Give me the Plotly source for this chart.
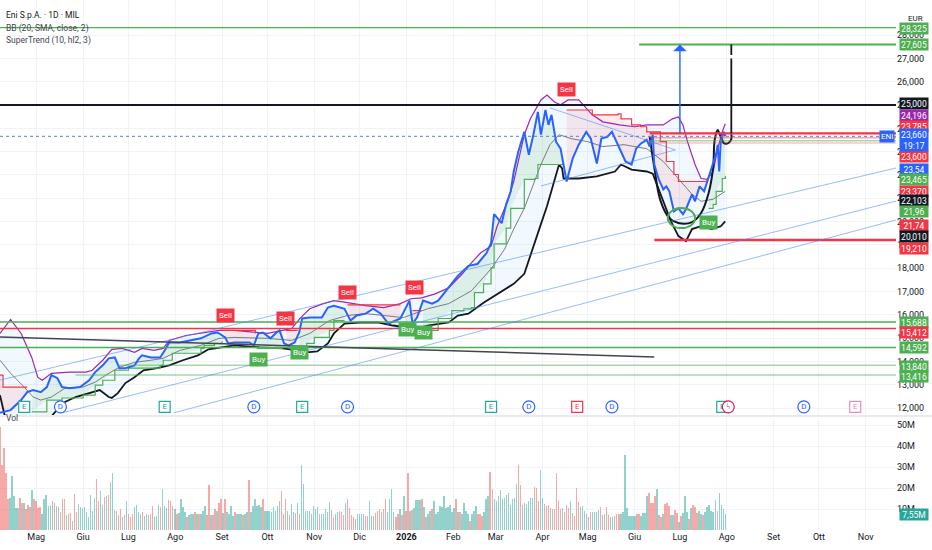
import pandas as pd
import plotly.graph_objects as go

# ---------------- data ----------------
price_dates = ["2025-04-07","2025-04-14","2025-04-21","2025-04-25","2025-04-29","2025-05-04","2025-05-08","2025-05-11","2025-05-15","2025-05-18",
               "2025-05-23","2025-05-30","2025-06-05","2025-06-09","2025-06-14","2025-06-18","2025-06-22","2025-06-25","2025-06-29","2025-07-05",
               "2025-07-08","2025-07-10","2025-07-16","2025-07-22","2025-07-25","2025-07-28","2025-08-04","2025-08-11","2025-08-18","2025-08-25",
               "2025-08-29","2025-09-03","2025-09-05","2025-09-09","2025-09-19","2025-09-22","2025-09-25","2025-09-28","2025-10-03","2025-10-07",
               "2025-10-09","2025-10-12","2025-10-15","2025-10-19","2025-10-22","2025-10-24","2025-10-29","2025-11-06","2025-11-10","2025-11-14",
               "2025-11-21","2025-11-25","2025-11-29","2025-12-05","2025-12-10","2025-12-15","2025-12-20","2025-12-28","2026-01-03","2026-01-05",
               "2026-01-08","2026-01-12","2026-01-18","2026-01-22","2026-01-29","2026-02-04","2026-02-11","2026-02-17","2026-02-23","2026-02-26",
               "2026-02-28","2026-03-05","2026-03-08","2026-03-11","2026-03-13","2026-03-16","2026-03-20","2026-03-23","2026-03-26","2026-03-29",
               "2026-03-31","2026-04-03","2026-04-05","2026-04-07","2026-04-10","2026-04-13","2026-04-17","2026-04-21","2026-04-25","2026-04-30",
               "2026-05-03","2026-05-07","2026-05-10","2026-05-14","2026-05-17","2026-05-21","2026-05-23","2026-05-26","2026-05-30","2026-06-02",
               "2026-06-05","2026-06-09","2026-06-11","2026-06-13","2026-06-14","2026-06-17","2026-06-20","2026-06-22","2026-06-24","2026-06-27",
               "2026-06-30","2026-07-03","2026-07-05","2026-07-09","2026-07-11","2026-07-14","2026-07-17","2026-07-19","2026-07-22","2026-07-25",
               "2026-07-26","2026-07-27","2026-07-28","2026-07-30","2026-07-31"]
price_close = [11.79,11.91,12.34,12.68,12.77,12.68,12.90,13.41,13.28,12.90,
               12.85,12.90,13.19,13.54,13.83,14.13,14.17,13.71,13.71,13.83,
               14.13,14.26,14.17,14.17,14.47,14.81,14.81,14.90,14.99,15.20,
               15.24,15.03,14.77,14.81,14.81,14.69,15.20,15.24,14.99,15.24,
               15.33,14.77,14.69,14.81,15.24,15.84,15.88,15.88,16.31,16.39,
               16.26,15.75,15.97,16.05,16.26,16.05,15.62,15.84,16.61,15.62,
               15.88,16.61,16.48,16.61,17.16,17.67,18.10,18.18,18.65,19.08,
               20.32,19.93,20.74,21.30,22.15,23.00,23.85,22.87,23.73,24.71,
               23.73,24.79,24.15,24.58,23.43,23.13,21.72,22.70,23.30,23.85,
               23.56,22.49,23.56,23.64,23.85,23.30,23.00,22.58,22.45,23.13,
               23.34,23.51,23.22,23.73,22.45,21.81,21.38,21.51,21.30,20.44,
               20.57,20.32,20.53,21.17,20.87,21.51,21.30,21.72,22.28,22.92,
               23.30,22.15,23.43,23.85,23.66]

bb_upper_dates = ["2025-04-07","2025-04-14","2025-04-21","2025-04-28","2025-05-02","2025-05-05","2025-05-11","2025-05-23","2025-06-03","2025-06-07",
                  "2025-06-14","2025-06-20","2025-06-27","2025-07-05","2025-07-10","2025-07-18","2025-07-24","2025-07-28","2025-08-08","2025-08-23",
                  "2025-08-30","2025-09-09","2025-09-24","2025-10-01","2025-10-11","2025-10-17","2025-10-23","2025-10-29","2025-11-07","2025-11-14",
                  "2025-11-23","2025-12-05","2025-12-17","2025-12-28","2026-01-04","2026-01-11","2026-01-20","2026-01-29","2026-02-07","2026-02-13",
                  "2026-02-19","2026-02-26","2026-03-02","2026-03-09","2026-03-13","2026-03-20","2026-03-24","2026-03-31","2026-04-04","2026-04-09",
                  "2026-04-13","2026-04-18","2026-04-25","2026-04-30","2026-05-04","2026-05-11","2026-05-22","2026-06-01","2026-06-09","2026-06-20",
                  "2026-06-26","2026-06-30","2026-07-03","2026-07-06","2026-07-11","2026-07-15","2026-07-19","2026-07-23","2026-07-26","2026-07-29",
                  "2026-07-31"]
bb_upper = [15.20,15.80,15.20,14.17,13.32,13.19,13.49,13.54,13.54,13.62,
            14.05,14.52,14.56,14.39,14.56,14.47,14.56,14.90,15.11,15.24,
            15.33,15.33,15.24,15.20,15.33,15.41,15.88,16.26,16.48,16.61,
            16.52,16.39,16.31,16.48,16.69,16.73,16.90,17.16,17.76,18.23,
            18.65,18.95,19.80,20.87,21.72,23.73,24.41,25.22,25.43,25.13,
            25.01,25.22,25.22,24.84,24.58,24.28,24.15,24.07,24.15,24.15,
            24.41,24.49,24.15,23.43,22.45,21.85,21.81,22.15,23.13,23.85,
            24.20]

bb_basis_dates = ["2025-04-07","2025-04-14","2025-04-23","2025-04-29","2025-05-04","2025-05-11","2025-05-20","2025-06-01","2025-06-09","2025-06-16",
                  "2025-06-25","2025-07-05","2025-07-16","2025-07-24","2025-08-04","2025-08-18","2025-08-30","2025-09-09","2025-10-01","2025-10-17",
                  "2025-10-29","2025-11-11","2025-11-23","2025-12-05","2025-12-30","2026-01-15","2026-01-29","2026-02-13","2026-02-26","2026-03-07",
                  "2026-03-13","2026-03-20","2026-03-31","2026-04-06","2026-04-12","2026-04-20","2026-05-01","2026-05-11","2026-05-25","2026-06-09",
                  "2026-06-20","2026-06-30","2026-07-09","2026-07-15","2026-07-23","2026-07-31"]
bb_basis = [14.05,13.49,12.90,12.47,12.34,12.47,12.85,12.90,13.11,13.41,
            13.75,13.96,14.05,14.13,14.47,14.69,14.99,15.03,14.99,14.90,
            15.20,15.75,15.97,16.05,15.88,16.26,16.48,17.03,17.97,18.82,
            19.68,20.57,22.45,23.30,23.73,23.56,23.43,23.22,23.30,23.13,
            22.58,21.85,21.17,20.87,20.96,21.30]

bb_lower_dates = ["2025-04-07","2025-04-10","2025-04-21","2025-05-04","2025-05-13","2025-05-20","2025-05-27","2025-06-05","2025-06-12","2025-06-18",
                  "2025-06-20","2025-06-24","2025-06-29","2025-07-05","2025-07-11","2025-07-20","2025-07-28","2025-08-06","2025-08-16","2025-08-23",
                  "2025-08-30","2025-09-09","2025-09-26","2025-10-11","2025-10-21","2025-10-27","2025-11-03","2025-11-10","2025-11-14","2025-11-21",
                  "2025-12-01","2025-12-13","2025-12-23","2026-01-02","2026-01-08","2026-01-15","2026-01-29","2026-02-04","2026-02-11","2026-02-21",
                  "2026-03-02","2026-03-13","2026-03-20","2026-03-26","2026-03-31","2026-04-04","2026-04-09","2026-04-12","2026-04-14","2026-04-15",
                  "2026-04-25","2026-05-07","2026-05-19","2026-05-23","2026-05-30","2026-06-09","2026-06-13","2026-06-19","2026-06-25","2026-06-30",
                  "2026-07-05","2026-07-09","2026-07-15","2026-07-22","2026-07-28","2026-07-31"]
bb_lower = [12.55,11.70,11.20,11.10,11.79,12.26,12.47,12.64,12.77,12.47,
            12.43,12.64,13.07,13.32,13.62,13.71,13.83,14.05,14.26,14.52,
            14.60,14.69,14.60,14.56,14.47,14.39,14.43,14.77,15.20,15.62,
            15.67,15.67,15.54,15.45,15.41,15.54,15.67,15.97,16.05,16.52,
            16.90,17.33,17.76,18.87,19.89,20.66,21.81,22.45,22.28,21.85,
            21.85,21.94,22.15,22.45,22.23,22.15,22.06,21.08,20.02,19.38,
            19.16,19.68,19.80,19.68,19.80,20.01]

# SuperTrend (10, hl2, 3): value and direction (1 = up / green, -1 = down / red)
st_dates = ["2025-04-07","2025-04-09","2025-04-25",
            "2025-04-28","2025-05-08","2025-05-18","2025-06-01","2025-06-09","2025-06-14","2025-06-22","2025-07-01","2025-07-20","2025-07-22",
            "2025-07-24","2025-07-30","2025-08-08","2025-08-18","2025-08-20","2025-08-27","2025-09-01",
            "2025-09-02","2025-09-19","2025-09-23",
            "2025-09-24","2025-10-11",
            "2025-10-13","2025-10-21",
            "2025-10-22","2025-10-27","2025-11-01","2025-11-11","2025-11-14","2025-11-21",
            "2025-11-23","2025-12-28",
            "2025-12-30","2026-01-04",
            "2026-01-05","2026-01-11",
            "2026-01-12","2026-01-22","2026-01-31","2026-02-08","2026-02-13","2026-02-15","2026-02-21","2026-02-26","2026-02-28","2026-03-08",
            "2026-03-11","2026-03-20","2026-03-27","2026-03-29","2026-04-15",
            "2026-04-17","2026-05-01","2026-05-04","2026-05-21","2026-05-23","2026-05-30","2026-06-05","2026-06-09","2026-06-18","2026-06-22",
            "2026-06-27","2026-06-30","2026-07-15","2026-07-19",
            "2026-07-20","2026-07-23","2026-07-25","2026-07-29","2026-07-31"]
st_vals = [13.41,12.90,12.90,
           11.83,12.34,12.43,12.55,12.98,13.19,13.62,13.71,13.71,13.83,
           14.05,14.35,14.35,14.56,14.69,14.77,14.86,
           15.33,15.33,15.20,
           14.56,14.56,
           15.33,15.33,
           14.56,14.77,15.03,15.33,15.75,15.75,
           16.43,16.43,
           15.50,15.50,
           16.18,16.18,
           15.33,15.84,16.18,16.26,16.31,16.95,17.33,18.01,19.04,19.72,
           20.57,21.81,21.85,22.45,22.49,
           24.79,24.79,24.58,24.62,24.41,24.15,24.07,23.85,23.43,22.58,
           22.02,21.72,21.72,21.85,
           20.57,20.74,21.30,21.85,21.96]
st_dir = [-1,-1,-1,
          1,1,1,1,1,1,1,1,1,1,
          1,1,1,1,1,1,1,
          -1,-1,-1,
          1,1,
          -1,-1,
          1,1,1,1,1,1,
          -1,-1,
          1,1,
          -1,-1,
          1,1,1,1,1,1,1,1,1,1,
          1,1,1,1,1,
          -1,-1,-1,-1,-1,-1,-1,-1,-1,-1,
          -1,-1,-1,-1,
          1,1,1,1,1]

sell_dates = ["2025-09-03","2025-10-13","2025-11-23","2026-01-06","2026-04-17"]
sell_y = [15.95,15.82,16.94,17.19,25.69]
buy_dates = ["2025-09-25","2025-10-22","2026-01-02","2026-01-12","2026-07-20"]
buy_y = [14.10,14.40,15.35,15.26,19.98]

# volume in millions, u = up bar, d = down bar
vol_m = [49,31,39,27,14.6,15.4,25.6,15.9,10.2,10.2,
         15.4,13,12.7,9.9,11.8,10.7,18.9,14.9,13.8,10.2,
         10.7,7.5,14.9,16.5,11.5,11.8,13.8,12.7,11.2,10.7,
         8.6,14.6,14.6,7.1,7.5,8,4.4,17,8.3,12.3,
         10.7,10.2,10.7,8.3,6,16.5,9.1,15.4,24,13.8,
         18.6,11.8,15.7,16.2,16.5,22.8,26.9,9.6,9.1,7.1,
         9.9,6,7.1,13.8,7.5,6,7.5,10.7,11.8,8.6,
         7.5,8.3,6.4,7.5,7.1,7.5,11.2,6,6.4,11.8,
         10.7,19.3,11.5,10.2,14.3,13.8,11.2,9.9,7.5,8,
         14.6,10.7,8.3,6,7.1,7.5,7.5,8.3,7.5,7.5,
         7.5,9.1,11.5,7.1,21.2,7.1,7.1,9.9,9.1,12.7,
         14.9,8,14.9,8.3,7.5,11.5,6.8,8.3,7.5,7.5,
         7.5,7.1,7.5,8.3,23.6,8.3,11.2,14.6,11.2,11.8,
         10.7,14.9,9.1,9.1,9.1,8.3,10.7,9.1,11.2,13.8,
         18.4,7.5,14.9,9.1,7.1,12.3,8.6,8,12.7,7.5,
         31.1,21.7,9.1,9.1,9.1,7.5,11.2,9.9,10.7,7.5,
         7.5,7.5,9.9,8.3,13.4,9.6,6,7.5,8.3,9.1,
         8.3,7.1,12.7,14.6,10.2,7.1,6,5.2,7.5,7.5,
         7.5,7.5,6.4,6.8,13.8,6.8,6.4,8,9.1,9.9,
         8.6,9.9,14.6,8.3,14.9,19.7,8.6,6,7.5,9.9,
         7.1,16.2,9.1,26.9,9.1,9.4,10.2,14.3,14.3,14.3,
         14.9,10.7,6,7.5,9.1,9.9,13.8,7.5,8.3,11.2,
         10.7,15.9,10.2,10.7,11.8,8.6,10.2,14.6,8.3,8.3,
         7.5,12.7,
         9.1,7.5,4.4,7.5,9.1,11.2,7.5,7.5,6.8,8.3,
         14.9,15.9,27.5,19.3,14.9,13.8,15.9,19,14.6,15.4,
         16.5,17.5,11.8,14.9,15.4,21.7,30.7,21.2,11.8,13,
         12.3,13.8,15.4,15.4,20.6,20.1,13.8,28.5,15.4,12.3,
         11.5,11.8,10.2,9.9,9.9,26.9,13.8,9.9,10.2,8.6,
         11.8,10.2,13.8,8,6.8,20.1,13.4,10.7,11.5,9.1,
         7.5,6,8.3,8.6,8.6,8.6,9.6,10.7,7.1,7.5,
         10.7,7.1,6,6,6.8,7.5,7.5,7.5,8.3,35.8,
         10.2,6.4,6.4,6.4,6.4,7.5,7.5,6.4,8,8,
         16.2,17.5,13,12.7,16.2,19.3,7.1,6,7.5,12.3,
         13,11.5,7.1,7.1,9.6,8,3.9,6.8,8,16.2,
         8.6,5.2,10.2,11.8,10.7,8,9.1,7.5,7.1,8.6,
         10.7,11.8,9.1,8.6,14.3,9.1,17.5,11.8,9.9,7.55]
vol_dir = ("ddddduuuuu" "dduddduddd" "duuuuududu" "dddudduddu" "uuuuuuuudd" "uududuudud"
           "dududdduuu" "uduuddduuu" "duuudddudu" "uuuduuudud" "uuudduddud" "duduuuuduu"
           "uduuduuuuu" "uduuuuuuuu" "ddduduudud" "uuuuuuuuud" "uuuuudduud" "dduddddduu"
           "uudduuuddd" "udduuuuddu" "dudduduuuu" "duduuduuuu" "uuuuuuudud" "uu"
           "uuduuudddu" "uudduuuuuu" "uuuuuudduu" "uuuuddduud" "ddudddddud" "ddudddduuu"
           "duduuuuddu" "dduuddduuu" "uuuuudduuu" "udddduddud" "dduudduduu" "ududdduudu"
           "uuuuuduuuu")

month_ticks = ["2025-05-01","2025-06-01","2025-07-01","2025-08-01","2025-09-01","2025-10-01","2025-11-01",
               "2025-12-01","2026-01-01","2026-02-01","2026-03-01","2026-04-01","2026-05-01","2026-06-01",
               "2026-07-01","2026-08-01","2026-09-01","2026-10-01","2026-11-01"]
month_labels = ["Mag","Giu","Lug","Ago","Set","Ott","Nov","Dic","<b>2026</b>","Feb","Mar","Apr","Mag","Giu",
                "Lug","Ago","Set","Ott","Nov"]

# price scale tags
tag_vals = [28.325,27.605,25.0,24.196,23.785,23.600,23.54,23.465,23.370,22.103,21.96,21.74,20.010,19.210,
            15.688,15.412,14.592,13.840,13.416]
tag_text = ["28,325","27,605","25,000","24,196","23,785","23,600","23,54","23,465","23,370","22,103","21,96",
            "21,74","20,010","19,210","15,688","15,412","14,592","13,840","13,416"]
last_price = 23.66
last_vol = 7.55

# chart events along the bottom
ev_e_dates = ["2025-04-23","2025-07-25","2025-10-24","2026-02-26","2026-07-29"]
ev_d_dates = ["2025-05-17","2025-09-22","2025-11-23","2026-03-23","2026-05-17","2026-09-21"]

# hand drawn cup & handle
cup_dates = ["2026-06-11","2026-06-14","2026-06-18","2026-06-24","2026-06-30","2026-07-09","2026-07-15","2026-07-20",
             "2026-07-23","2026-07-24","2026-07-26","2026-07-27","2026-07-29","2026-07-30","2026-08-02","2026-08-04","2026-08-04"]
cup_vals = [23.63,22.34,20.92,20.15,19.94,19.98,20.37,21.23,22.34,23.50,23.93,23.79,23.50,23.37,23.37,23.54,23.79]

X0, X1 = "2025-04-07", "2026-11-21"
FONT = "Roboto"
GREEN, RED, BLUE, BLACK, PURPLE = "#4caf50", "#f23645", "#2962ff", "#131722", "#9c27b0"

fig = go.Figure()
P = dict(xaxis="x2", yaxis="y", hoverinfo="skip", showlegend=False)

# Bollinger fill
fig.add_trace(go.Scatter(x=bb_upper_dates + bb_lower_dates[::-1], y=bb_upper + bb_lower[::-1], fill="toself",
                         fillcolor="rgba(33,150,243,0.06)", line=dict(width=0), mode="lines", **P))

# supertrend segments
segs = []
for d, v, s in zip(st_dates, st_vals, st_dir):
    if not segs or segs[-1][2] != s:
        segs.append([[], [], s])
    segs[-1][0].append(d)
    segs[-1][1].append(v)

for xs, ys, s in segs:
    px = [d for d in price_dates if xs[0] <= d <= xs[-1]]
    py = [v for d, v in zip(price_dates, price_close) if xs[0] <= d <= xs[-1]]
    fc = "rgba(76,175,80,0.12)" if s > 0 else "rgba(242,54,69,0.10)"
    fig.add_trace(go.Scatter(x=xs + px[::-1], y=ys + py[::-1], fill="toself", fillcolor=fc,
                             line=dict(width=0), mode="lines", **P))

fig.add_trace(go.Scatter(x=bb_lower_dates, y=bb_lower, mode="lines", line=dict(color=BLACK, width=1.8), **P))
fig.add_trace(go.Scatter(x=bb_basis_dates, y=bb_basis, mode="lines", line=dict(color="#787b86", width=1), **P))
fig.add_trace(go.Scatter(x=bb_upper_dates, y=bb_upper, mode="lines", line=dict(color=PURPLE, width=1.2), **P))

for xs, ys, s in segs:
    fig.add_trace(go.Scatter(x=xs, y=ys, mode="lines", line=dict(color=GREEN if s > 0 else RED, width=1.2, shape="hv"), **P))

fig.add_trace(go.Scatter(x=cup_dates, y=cup_vals, mode="lines", line=dict(color=BLACK, width=2, shape="spline"), **P))
fig.add_trace(go.Scatter(x=price_dates, y=price_close, mode="lines", line=dict(color=BLUE, width=2), **P))

# events row
fig.add_trace(go.Scatter(x=ev_e_dates, y=[12.05] * len(ev_e_dates), mode="markers+text", text=["E"] * len(ev_e_dates),
                         marker=dict(symbol="square", size=11, color="white", line=dict(color="#26a69a", width=1.2)),
                         textfont=dict(color="#26a69a", size=8, family=FONT), cliponaxis=False, **P))
fig.add_trace(go.Scatter(x=ev_d_dates, y=[12.05] * len(ev_d_dates), mode="markers+text", text=["D"] * len(ev_d_dates),
                         marker=dict(symbol="circle", size=12, color="white", line=dict(color=BLUE, width=1.2)),
                         textfont=dict(color=BLUE, size=8, family=FONT), cliponaxis=False, **P))
fig.add_trace(go.Scatter(x=["2026-04-24", "2026-10-25"], y=[12.05, 12.05], mode="markers+text", text=["E", "E"],
                         marker=dict(symbol="square", size=11, color="white", line=dict(color=[RED, "#e88fbc"], width=1.2)),
                         textfont=dict(color=[RED, "#e88fbc"], size=8, family=FONT), cliponaxis=False, **P))
fig.add_trace(go.Scatter(x=["2026-08-02"], y=[12.05], mode="markers+text", text=["ϟ"],
                         marker=dict(symbol="circle", size=12, color="white", line=dict(color="#d81b60", width=1.2)),
                         textfont=dict(color="#d81b60", size=9, family=FONT), cliponaxis=False, **P))

# volume
vol_dates = pd.date_range(X0, "2026-07-31", periods=len(vol_m))
vcol = ["rgba(38,166,154,0.5)" if c == "u" else "rgba(239,83,80,0.5)" for c in vol_dir]
fig.add_trace(go.Bar(x=vol_dates, y=vol_m, marker=dict(color=vcol, line=dict(width=0)),
                     width=0.95 * 86400000, xaxis="x", yaxis="y2", hoverinfo="skip", showlegend=False))

# ---------------- drawings ----------------
shapes = []
def hline(v, color, width, start=X0, dash="solid"):
    shapes.append(dict(type="line", xref="x2", yref="y", x0=start, x1=X1, y0=v, y1=v,
                       line=dict(color=color, width=width, dash=dash)))

hline(28.325, GREEN, 1.2)
hline(27.605, GREEN, 2, "2026-06-04")
hline(25.0, BLACK, 2)
hline(23.37, "rgba(242,54,69,0.3)", 1.5, "2026-06-11")
hline(23.465, "rgba(76,175,80,0.5)", 1.5, "2026-06-11")
hline(23.60, "rgba(242,54,69,0.45)", 1.5, "2026-06-11")
hline(23.785, RED, 2.2, "2026-06-11")
hline(last_price, "#5b7cc9", 1, dash="dot")
hline(19.21, RED, 2.5, "2026-06-14")
hline(15.688, GREEN, 1.5)
hline(15.412, RED, 1.5)
hline(14.592, GREEN, 1.5)
hline(13.84, "rgba(76,175,80,0.5)", 1.5, "2025-06-24")
hline(13.416, "rgba(76,175,80,0.5)", 1.5, "2025-05-27")

LB = "rgba(66,133,244,0.55)"
for a, b in [(("2025-04-07", 13.20), (X1, 22.30)), (("2025-05-18", 11.79), (X1, 20.88)),
             (("2025-07-31", 11.79), (X1, 20.07)), (("2026-04-06", 24.88), ("2026-06-28", 23.08)),
             (("2026-03-31", 21.53), ("2026-06-28", 23.08))]:
    shapes.append(dict(type="line", xref="x2", yref="y", x0=a[0], y0=a[1], x1=b[0], y1=b[1], line=dict(color=LB, width=1)))
shapes.append(dict(type="line", xref="x2", yref="y", x0="2025-04-07", y0=15.05, x1="2026-06-14", y1=14.19,
                   line=dict(color="#434651", width=1.5)))
shapes.append(dict(type="line", xref="x2", yref="y", x0="2026-08-04", y0=23.79, x1="2026-08-04", y1=27.0,
                   line=dict(color=BLACK, width=1.8)))
shapes.append(dict(type="line", xref="x2", yref="y", x0="2026-08-04", y0=27.15, x1="2026-08-04", y1=27.6,
                   line=dict(color=BLACK, width=1.8)))
shapes.append(dict(type="circle", xref="x2", yref="y", x0="2026-06-23", x1="2026-07-11", y0=19.72, y1=20.58,
                   line=dict(color=GREEN, width=2)))
shapes.append(dict(type="line", xref="paper", yref="paper", x0=0, x1=1.05, y0=0.2151, y1=0.2151,
                   line=dict(color="#e0e3eb", width=1.5)))

ann = []
ann.append(dict(x="2026-07-01", y=27.6, ax="2026-07-01", ay=23.72, xref="x2", yref="y", axref="x2", ayref="y",
                showarrow=True, arrowhead=1, arrowsize=1.6, arrowwidth=1.4, arrowcolor=BLUE, text=""))

for d, v in zip(sell_dates, sell_y):
    ann.append(dict(x=d, y=v, xref="x2", yref="y", text="Sell", showarrow=False, bgcolor=RED, borderpad=2,
                    font=dict(color="white", size=8, family=FONT)))
for d, v in zip(buy_dates, buy_y):
    ann.append(dict(x=d, y=v, xref="x2", yref="y", text="Buy", showarrow=False, bgcolor=GREEN, borderpad=2,
                    font=dict(color="white", size=8, family=FONT)))

tag_colors = [GREEN, GREEN, BLACK, PURPLE, RED, RED, BLUE, GREEN, RED, BLACK, GREEN, RED, BLACK, RED,
              GREEN, RED, GREEN, GREEN, GREEN]
tag_shift = [-1, 0, 2, 8, 7, -19, -30, -39, -48, -28, -36, -44, -15, -8, 0, -4, 0, -1, -1]
for v, t, c, s in zip(tag_vals, tag_text, tag_colors, tag_shift):
    ann.append(dict(x=1, xref="paper", y=v, yref="y", yshift=s, xanchor="left", xshift=3, text=t, showarrow=False,
                    bgcolor=c, borderpad=0.5, width=27, align="center",
                    font=dict(color="white", size=8.5, family=FONT)))
ann.append(dict(x=1, xref="paper", y=last_price, yref="y", yshift=-4, xanchor="left", xshift=3,
                text="23,660<br>19:17", showarrow=False, bgcolor=BLUE, borderpad=0.5, width=27, align="center",
                font=dict(color="white", size=8.5, family=FONT)))
ann.append(dict(x=1, xref="paper", y=last_price, yref="y", xanchor="right", xshift=-1, text="ENI", showarrow=False,
                bgcolor=BLUE, borderpad=1, font=dict(color="white", size=8, family=FONT)))
ann.append(dict(x=1, xref="paper", y=last_vol, yref="y2", xanchor="left", xshift=3, text="7,55M", showarrow=False,
                bgcolor="#26a69a", borderpad=0.5, width=27, font=dict(color="white", size=8.5, family=FONT)))
ann.append(dict(x=1, xref="paper", y=0.978, yref="paper", xanchor="left", xshift=10, text="EUR", showarrow=False,
                font=dict(color=BLACK, size=8, family=FONT)))

legend_lines = [("Eni S.p.A. · 1D · MIL", 0.985, BLACK), ("BB (20, SMA, close, 2)", 0.960, "#434651"),
                ("SuperTrend (10, hl2, 3)", 0.938, "#434651")]
for t, yy, c in legend_lines:
    ann.append(dict(x=0.004, y=yy, xref="paper", yref="paper", xanchor="left", text=t, showarrow=False,
                    font=dict(color=c, size=8.5, family=FONT)))
ann.append(dict(x=0.004, y=0.198, xref="paper", yref="paper", xanchor="left", text="Vol", showarrow=False,
                font=dict(color="#434651", size=8.5, family=FONT)))

price_ticks = list(range(12, 29))
GRID = "#f0f3fa"
fig.update_layout(
    width=932, height=550, margin=dict(l=0, r=36, t=0, b=20, autoexpand=False),
    paper_bgcolor="white", plot_bgcolor="white", font=dict(family=FONT, size=9, color=BLACK),
    bargap=0, showlegend=False, shapes=shapes, annotations=ann,
    xaxis=dict(type="date", domain=[0, 1], anchor="y2", range=[X0, X1], tickvals=month_ticks,
               ticktext=month_labels, showgrid=True, gridcolor=GRID, zeroline=False, ticks="",
               tickfont=dict(size=9, color=BLACK), automargin=False),
    xaxis2=dict(type="date", domain=[0, 1], anchor="y", matches="x", showticklabels=False,
                tickvals=month_ticks, showgrid=True, gridcolor=GRID, zeroline=False, automargin=False),
    yaxis=dict(domain=[0.217, 1], anchor="x2", side="right", range=[11.70, 29.51], tickvals=price_ticks,
               ticktext=["{:,.3f}".format(v).replace(".", ",") for v in price_ticks], showgrid=True, gridcolor=GRID,
               zeroline=False, ticks="", tickfont=dict(size=9, color=BLACK), automargin=False),
    yaxis2=dict(domain=[0, 0.211], anchor="x", side="right", range=[0, 53.3], tickvals=[10, 20, 30, 40, 50],
                ticktext=["10M", "20M", "30M", "40M", "50M"], showgrid=True, gridcolor=GRID, zeroline=False,
                ticks="", tickfont=dict(size=9, color=BLACK), automargin=False),
)

fig.write_html("out.html", config={"displayModeBar": False},
               post_script="document.body.style.margin='0px';")
